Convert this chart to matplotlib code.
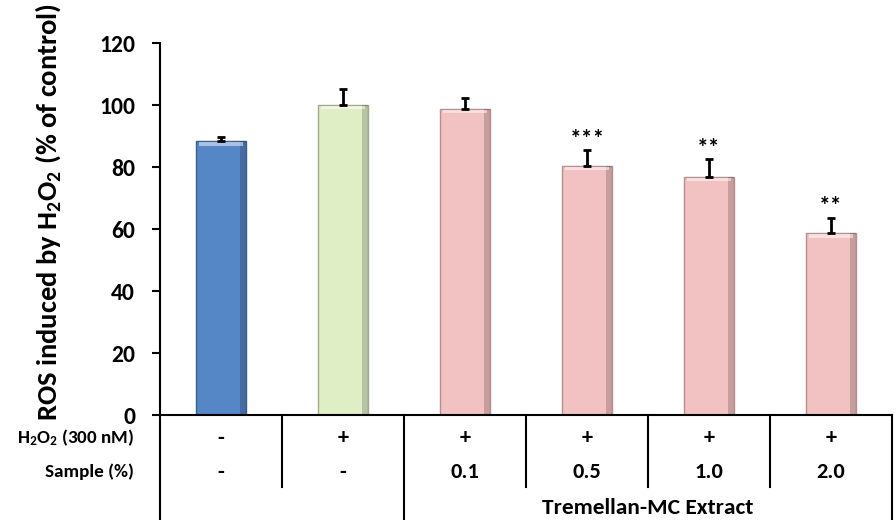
import numpy as np
import matplotlib
matplotlib.use("Agg")
import matplotlib.pyplot as plt
from matplotlib.transforms import blended_transform_factory

# Data
groups = ["Control", "H2O2", "0.1", "0.5", "1.0", "2.0"]
ros_mean = [88.3, 100.0, 98.9, 80.4, 76.8, 58.6]
ros_err = [1.4, 5.1, 3.3, 5.2, 5.8, 5.1]
signif = ["", "", "", "***", "**", "**"]
h2o2_row = ["-", "+", "+", "+", "+", "+"]
sample_row = ["-", "-", "0.1", "0.5", "1.0", "2.0"]
bar_colors = ["#5586C6", "#E0EEC6", "#F2C1C1", "#F2C1C1", "#F2C1C1", "#F2C1C1"]
edge_colors = ["#3A5F8F", "#9FAA88", "#B58E8E", "#B58E8E", "#B58E8E", "#B58E8E"]

plt.rcParams["font.family"] = ["Carlito", "DejaVu Sans"]
plt.rcParams["font.weight"] = "bold"
plt.rcParams["mathtext.fontset"] = "custom"
plt.rcParams["mathtext.rm"] = "Carlito:bold"
plt.rcParams["mathtext.bf"] = "Carlito:bold"
plt.rcParams["mathtext.default"] = "bf"

fig = plt.figure(figsize=(8.96, 5.2), dpi=100)
ax = fig.add_axes([160 / 896, 1 - 415 / 520, 732 / 896, (415 - 43.3) / 520])

x = np.arange(len(groups))
w = 0.41
ax.bar(x, ros_mean, width=w, color=bar_colors, edgecolor=edge_colors, linewidth=1.0, zorder=2)
# soft bevel look: dark right side, light top
ax.bar(x + w / 2 - 0.025, ros_mean, width=0.05, color="black", alpha=0.18, linewidth=0, zorder=2.1)
ax.bar(x, np.full(len(x), 1.0), bottom=np.array(ros_mean) - 1.3, width=w - 0.05,
       color="white", alpha=0.5, linewidth=0, zorder=2.1)
ax.errorbar(x, ros_mean, yerr=[np.zeros(len(x)), ros_err], fmt="none",
            ecolor="black", elinewidth=2, capsize=3, capthick=2, zorder=3)

for xi, m, e, s in zip(x, ros_mean, ros_err, signif):
    if s:
        ax.text(xi, m + e + 3.5, s, ha="center", va="center", fontsize=17, fontweight="bold")

ax.set_xlim(-0.5, len(groups) - 0.5)
ax.set_ylim(0, 120)
ax.set_yticks(np.arange(0, 121, 20))
ax.tick_params(axis="y", direction="out", length=6, width=1.5, labelsize=17, pad=12)
ax.set_xticks([])
for side in ["top", "right"]:
    ax.spines[side].set_visible(False)
for side in ["left", "bottom"]:
    ax.spines[side].set_linewidth(1.5)

ax.set_ylabel(r"ROS induced by H$_2$O$_2$ (% of control)", fontsize=20.5, fontweight="bold")
ax.yaxis.set_label_coords((63 - 160) / 732, (415 - 212) / 371.7)

# table under the chart
tr = blended_transform_factory(ax.transData, fig.transFigure)
for b in np.arange(-0.5, len(groups), 1.0):
    full = b in (-0.5, 1.5, len(groups) - 0.5)
    y_end = 0.0 if full else 1 - 487 / 520
    ax.plot([b, b], [1 - 415 / 520, y_end], transform=tr, color="black", lw=1.5, clip_on=False)

y_h2o2 = 1 - 438 / 520
y_sample = 1 - 472 / 520
y_ext = 1 - 508.5 / 520
fig.text(134 / 896, y_h2o2, r"H$_2$O$_2$ (300 nM)", ha="right", va="center", fontsize=13.8, fontweight="bold")
fig.text(134 / 896, y_sample, "Sample (%)", ha="right", va="center", fontsize=13.8, fontweight="bold")
for xi, a, b in zip(x, h2o2_row, sample_row):
    ax.text(xi, y_h2o2, a, transform=tr, ha="center", va="center", fontsize=16, fontweight="bold")
    ax.text(xi, y_sample, b, transform=tr, ha="center", va="center", fontsize=16, fontweight="bold")
ax.text((x[2] + x[-1]) / 2, y_ext, "Tremellan-MC Extract", transform=tr,
        ha="center", va="center", fontsize=16.8, fontweight="bold")

fig.savefig("out.png", dpi=100)
